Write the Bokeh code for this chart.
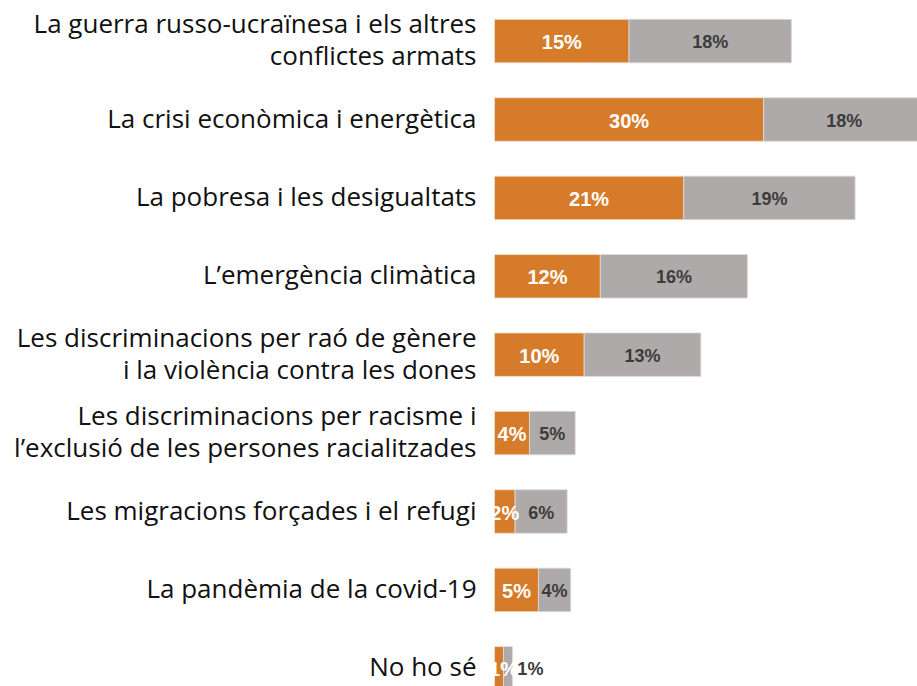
from bokeh.plotting import figure
from bokeh.models import ColumnDataSource, Range1d
from bokeh.embed import file_html
from bokeh.resources import INLINE
from bokeh.core.properties import value

categories = [
    "La guerra russo-ucraïnesa i els altres\nconflictes armats",
    "La crisi econòmica i energètica",
    "La pobresa i les desigualtats",
    "L’emergència climàtica",
    "Les discriminacions per raó de gènere\ni la violència contra les dones",
    "Les discriminacions per racisme i\nl’exclusió de les persones racialitzades",
    "Les migracions forçades i el refugi",
    "La pandèmia de la covid-19",
    "No ho sé",
]
first_choice = [15.0, 30.0, 21.1, 11.8, 10.0, 3.9, 2.3, 4.9, 1.0]
second_choice = [18.1, 18.0, 19.1, 16.4, 13.0, 5.1, 5.8, 3.6, 1.0]

ORANGE = "#D67B29"
GRAY = "#AEAAA9"

n = len(categories)
ypos = list(range(n))
ends1 = first_choice
ends2 = [a + b for a, b in zip(first_choice, second_choice)]
lab1 = [f"{round(v)}%" for v in first_choice]
lab2 = [f"{round(v)}%" for v in second_choice]
x1 = [max(v / 2, 1.0) for v in first_choice]
x2 = [a + b / 2 if b >= 2 else a + b + 2 for a, b in zip(first_choice, second_choice)]

src = ColumnDataSource(dict(y=ypos, cat=categories, e1=ends1, e2=ends2,
                            l1=lab1, l2=lab2, x1=x1, x2=x2, zero=[0] * n))

W, H = 917, 686
pxper = 8.97
x0px = 494
row_px = 78.4
first_px = 40.6

p = figure(width=W, height=H, output_backend="svg", toolbar_location=None,
           x_range=Range1d(-x0px / pxper, (W - x0px) / pxper),
           y_range=Range1d((H - first_px) / row_px, -first_px / row_px),
           min_border=0, outline_line_color=None)
p.axis.visible = False
p.grid.visible = False
p.background_fill_color = "white"
p.border_fill_color = "white"

bh = 43.5 / row_px
p.hbar(y="y", left="zero", right="e1", height=bh, source=src,
       fill_color=ORANGE, line_color="#f2e3d6", line_width=0.8)
p.hbar(y="y", left="e1", right="e2", height=bh, source=src,
       fill_color=GRAY, line_color="#dddada", line_width=0.8)

p.text(x="x1", y="y", text="l1", source=src, text_align="center", text_baseline="middle",
       text_color="white", text_font=value("Liberation Sans"), text_font_style="bold",
       text_font_size="20px", y_offset=1)
p.text(x="x2", y="y", text="l2", source=src, text_align="center", text_baseline="middle",
       text_color="#3c3c3c", text_font=value("Liberation Sans"), text_font_style="bold",
       text_font_size="18px", y_offset=1)

p.text(x="zero", y="y", text="cat", source=src, text_align="right", text_baseline="middle",
       x_offset=-18, y_offset=-2, text_color="#111111", text_font=value("Open Sans"),
       text_font_size="26px", text_line_height=0.9)

open("out.html", "w").write(file_html(p, INLINE))
